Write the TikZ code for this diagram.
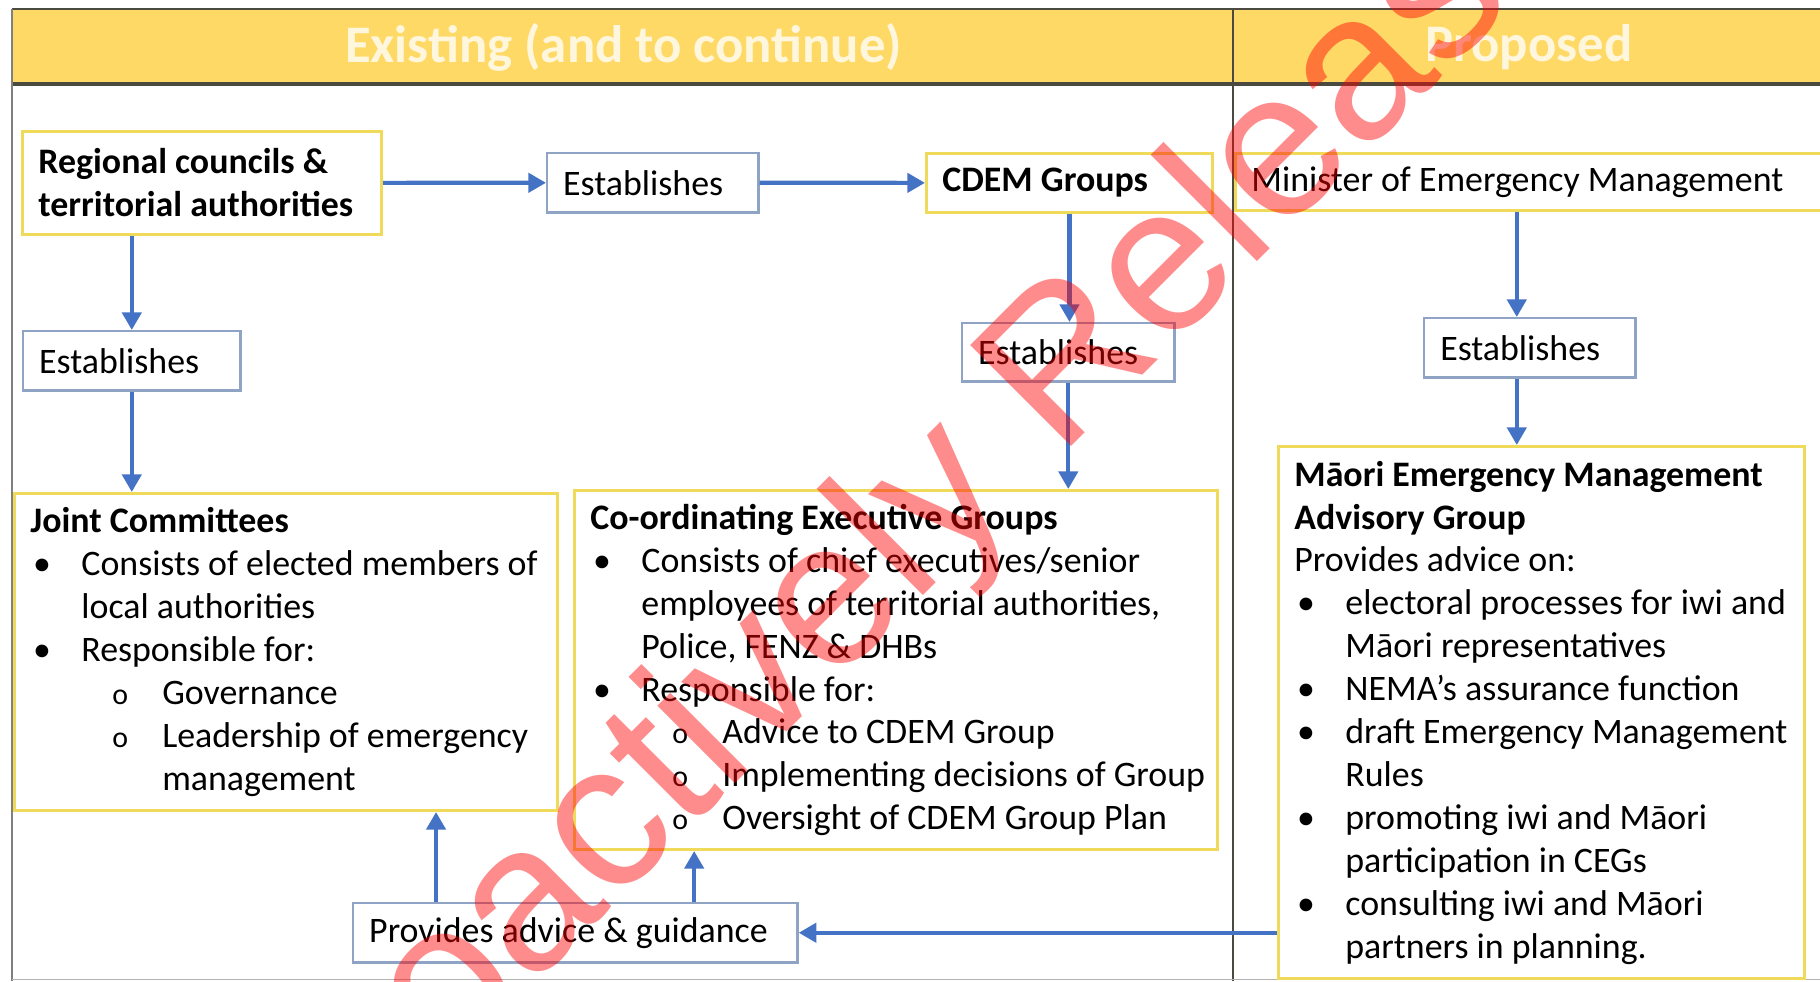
\documentclass[tikz,border=0pt]{standalone}
\usepackage{fontspec}
\setmainfont{Carlito}
\newfontfamily\wmfont{Liberation Sans}
\usepackage{tikz}
\usetikzlibrary{arrows.meta,positioning,calc}
\usepackage{xcolor}
\definecolor{arrowblue}{HTML}{4472C4}
\definecolor{hdr}{HTML}{FFD966}
\definecolor{ybord}{HTML}{F0DA5A}
\definecolor{bbord}{HTML}{8FA3C4}
\definecolor{rule}{HTML}{4A4A40}
\newcommand{\nf}{\fontsize{10.2}{12.2}\selectfont}
% list lines: bullet, continuation, sub item, sub continuation
\newcommand{\bl}[1]{\makebox[14.5pt][l]{\hspace*{0.8pt}\textbullet}\mbox{#1}}
\newcommand{\cl}[1]{\hspace*{14.5pt}\mbox{#1}}
\newcommand{\ol}[1]{\hspace*{23.3pt}\makebox[14.2pt][l]{\fontsize{8.5}{8.5}\selectfont o}\mbox{#1}}
\newcommand{\ocl}[1]{\hspace*{37.5pt}\mbox{#1}}

\begin{document}
\begin{tikzpicture}[x=0.01cm,y=-0.01cm,
  yb/.style={draw=ybord,line width=0.8pt,fill=white,anchor=north west,align=left,
    inner xsep=0.16cm,inner ysep=0.08cm,font=\nf,
    execute at begin node={\spaceskip=0pt\relax}},
  bb/.style={draw=bbord,line width=0.7pt,fill=white,anchor=north west,align=left,
    inner xsep=0.16cm,inner ysep=0.08cm,font=\nf,
    execute at begin node={\spaceskip=0pt\relax}},
  hd/.style={fill=hdr,anchor=north west,minimum height=0.75cm,inner sep=0pt,
    text=hdr!22!white,font=\fontsize{15}{18}\selectfont\bfseries},
  ar/.style={-{Triangle[width=5.4pt,length=5pt]},arrowblue,line width=1.2pt},
  wm/.style={rotate=45,text=red,text opacity=0.45,inner sep=0pt,
    font=\wmfont\fontsize{59}{60}\selectfont}]
 \useasboundingbox (0,0) rectangle (1820,981);
 \clip (0,0) rectangle (1820,981);
 \fill[white] (0,0) rectangle (1820,981);

 % header
 \node[hd,minimum width=12.21cm] (hL) at (12,9) {Existing (and to continue)};
 \node[hd,minimum width=5.90cm] (hR) at (1233,9) {Proposed};
 \draw[rule,line width=0.8pt] (12,9) -- (1820,9);
 \draw[rule,line width=0.9pt] (12,84) -- (1820,84);
 \draw[gray,line width=0.5pt] (12,9) -- (12,981);
 \draw[rule,line width=0.5pt] (1233,9) -- (1233,981);
 \draw[gray!60,line width=0.5pt] (12,979.5) -- (1820,979.5);

 % existing
 \node[yb,text width=3.27cm,minimum height=1.03cm,font=\nf\bfseries] (rc) at (21,130)
   {Regional councils \&\\ territorial authorities};
 \node[bb,text width=1.79cm,minimum height=0.59cm] (e1) at (546,152) {Establishes};
 \node[yb,text width=2.54cm,minimum height=0.59cm,font=\nf\bfseries] (cdem) at (925,152) {CDEM Groups};
 \node[bb,text width=1.85cm,minimum height=0.59cm] (e2) at (22,330) {Establishes};
 \node[bb,text width=1.80cm,minimum height=0.58cm] (e3) at (961,322) {Establishes};
 \node[yb,text width=5.11cm,minimum height=3.17cm] (jc) at (13,492) {%
   \textbf{Joint Committees}\\
   \bl{Consists of elected members of}\\
   \cl{local authorities}\\
   \bl{Responsible for:}\\
   \ol{Governance}\\
   \ol{Leadership of emergency}\\
   \ocl{management}};
 \node[yb,text width=6.11cm,minimum height=3.59cm] (ceg) at (573,489) {%
   \textbf{Co-ordinating Executive Groups}\\
   \bl{Consists of chief executives/senior}\\
   \cl{employees of territorial authorities,}\\
   \cl{Police, FENZ \& DHBs}\\
   \bl{Responsible for:}\\
   \ol{Advice to CDEM Group}\\
   \ol{Implementing decisions of Group}\\
   \ol{Oversight of CDEM Group Plan}};
 \node[bb,text width=4.12cm,minimum height=0.59cm] (pa) at (352,902) {Provides advice \& guidance};

 % proposed
 \node[yb,text width=5.78cm,minimum height=0.57cm] (mn) at (1234,152) {Minister of Emergency Management};
 \node[bb,text width=1.79cm,minimum height=0.59cm] (e4) at (1423,317) {Establishes};
 \node[yb,text width=4.94cm,minimum height=5.32cm] (mg) at (1277,445) {%
   \textbf{Māori Emergency Management}\\
   \textbf{Advisory Group}\\
   Provides advice on:\\
   \bl{electoral processes for iwi and}\\
   \cl{Māori representatives}\\
   \bl{NEMA’s assurance function}\\
   \bl{draft Emergency Management}\\
   \cl{Rules}\\
   \bl{promoting iwi and Māori}\\
   \cl{participation in CEGs}\\
   \bl{consulting iwi and Māori}\\
   \cl{partners in planning.}};

 % connectors
 \draw[ar] (rc) -- (e1);
 \draw[ar] (e1) -- (cdem);
 \draw[ar] (rc.south -| e2.north) -- (e2.north);
 \draw[ar] (e2.south) -- (e2.south |- jc.north);
 \draw[ar] (cdem.south) -- (cdem.south |- e3.north);
 \draw[ar] (e3.south) -- (e3.south |- ceg.north);
 \draw[ar] ([xshift=-0.13cm]e4.north |- mn.south) -- ([xshift=-0.13cm]e4.north);
 \draw[ar] ([xshift=-0.13cm]e4.south) -- ([xshift=-0.13cm]e4.south |- mg.north);
 \draw[ar] ([xshift=0.84cm]pa.north west) -- ([xshift=0.84cm]pa.north west |- jc.south);
 \draw[ar] ([xshift=3.42cm]pa.north west) -- ([xshift=3.42cm]pa.north west |- ceg.south);
 \draw[ar] (mg.west |- pa.east) -- (pa.east);

 % watermark
 \node[wm] (wmk) at (953,490) {Proactively Released};
\end{tikzpicture}
\end{document}
